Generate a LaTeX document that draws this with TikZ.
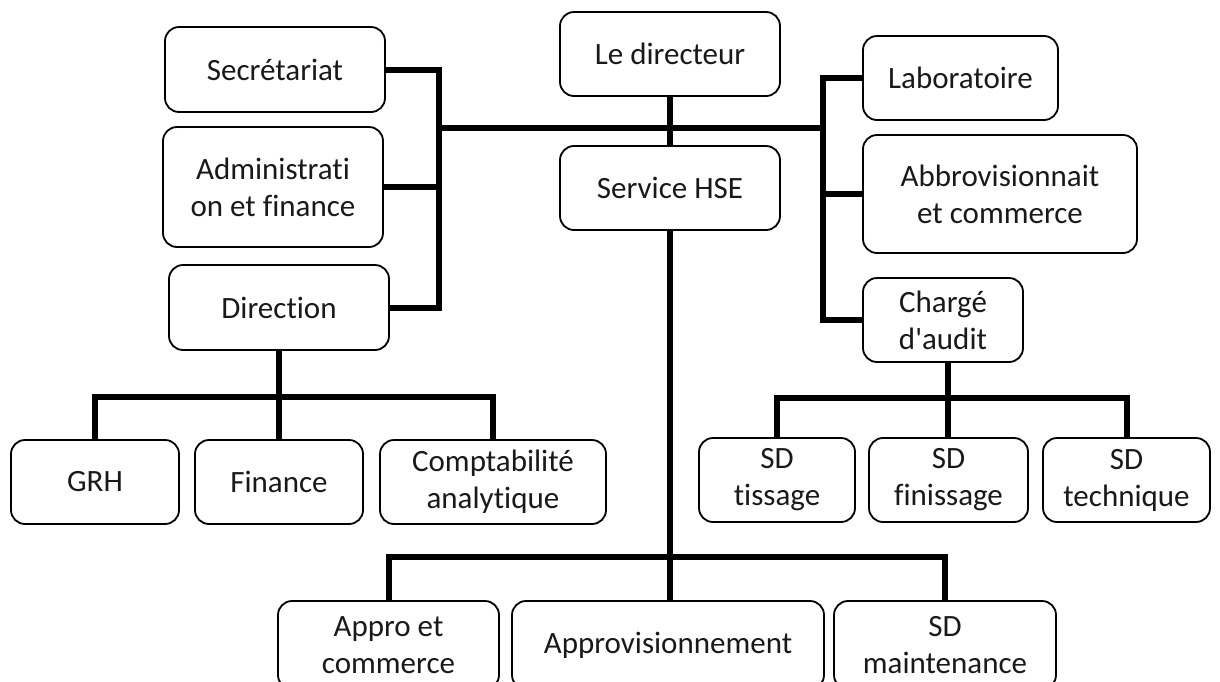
\documentclass[tikz,border=0pt]{standalone}
\usepackage{fontspec}
\setmainfont{Carlito}[Ligatures={TeXOff,CommonOff}]
\begin{document}
\begin{tikzpicture}[x=1pt,y=-1pt,
  box/.style={draw=black, line width=1.8pt, rounded corners=14pt, inner sep=0pt,
    align=center, font=\fontsize{31}{37}\selectfont, text=black!90},
  conn/.style={draw=black, line width=6pt, line join=miter}]
\useasboundingbox (0,0) rectangle (1220,681);
\clip (0,0) rectangle (1220,681);
% top area
\node[box, minimum width=220pt, minimum height=85pt] (sec) at (275,69.5) {Secrétariat};
\node[box, minimum width=220pt, minimum height=84pt] (dir) at (670,54) {Le directeur};
\node[box, minimum width=195pt, minimum height=84pt] (lab) at (960.5,78) {Laboratoire};
\node[box, minimum width=220pt, minimum height=120pt] (adm) at (273,187) {Administrati\\on et finance};
\node[box, minimum width=220pt, minimum height=84pt] (hse) at (670,188) {Service HSE};
\node[box, minimum width=274pt, minimum height=118pt] (abb) at (1000,194) {Abbrovisionnait\\et commerce};
\node[box, minimum width=220pt, minimum height=85pt] (drn) at (279,307.5) {Direction};
\node[box, minimum width=160pt, minimum height=84pt] (cha) at (943,320) {Chargé\\d'audit};
% middle row
\node[box, minimum width=168pt, minimum height=84pt] (grh) at (95,482) {GRH};
\node[box, minimum width=168pt, minimum height=84pt] (fin) at (279,482) {Finance};
\node[box, minimum width=226pt, minimum height=84pt] (comp) at (493,482) {Comptabilité\\analytique};
\node[box, minimum width=156pt, minimum height=84pt] (tis) at (777,480) {SD\\tissage};
\node[box, minimum width=159pt, minimum height=84pt] (finis) at (948.5,480) {SD\\finissage};
\node[box, minimum width=167pt, minimum height=84pt] (tech) at (1126.5,480) {SD\\technique};
% bottom row (cut off by the page edge)
\node[box, minimum width=221pt, minimum height=88pt] (appro) at (388.5,645) {Appro et\\commerce};
\node[box, minimum width=312pt, minimum height=88pt] (approv) at (668,645) {Approvisionnement};
\node[box, minimum width=222pt, minimum height=88pt] (sdm) at (945,645) {SD\\maintenance};
% bus coordinates
\coordinate (lbx) at (439,0);
\coordinate (rbx) at (823,0);
\coordinate (mainy) at (0,128);
\coordinate (b1) at (279,397);
\coordinate (b2) at (948,398);
\coordinate (b3) at (670,557);
% connectors
\draw[conn] (sec.east) -- (sec.east -| lbx) |- (drn.east);
\draw[conn] (adm.east) -- (adm.east -| lbx);
\draw[conn] (lbx |- mainy) -- (rbx |- mainy);
\draw[conn] (dir.south) -- (hse.north);
\draw[conn] (lab.west) -- (lab.west -| rbx) |- (cha.west);
\draw[conn] (abb.west) -- (abb.west -| rbx);
\draw[conn] (drn.south) -- (fin.north);
\draw[conn] (grh.north) |- (b1) -| (comp.north);
\draw[conn] (b2 |- cha.south) -- (b2 |- finis.north);
\draw[conn] (tis.north) |- (b2) -| (tech.north);
\draw[conn] (hse.south) -- (b3 |- approv.north);
\draw[conn] (appro.north) |- (b3) -| (sdm.north);
\end{tikzpicture}
\end{document}
